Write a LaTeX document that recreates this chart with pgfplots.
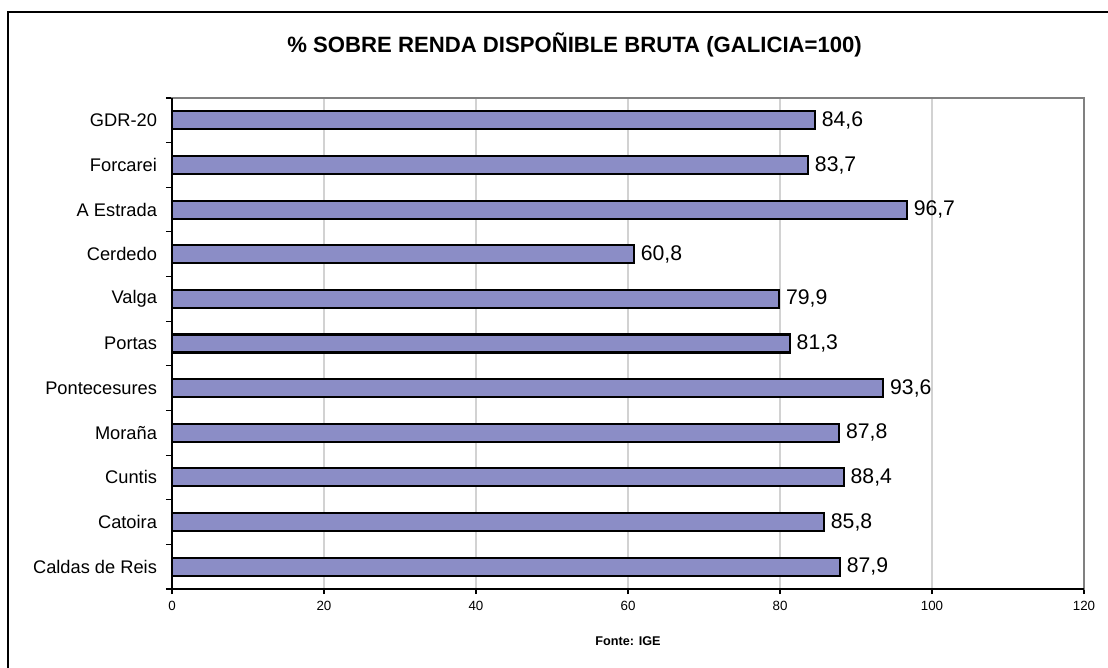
\documentclass[border=0pt]{standalone}
\usepackage{fontspec}
\setmainfont{Liberation Sans}
\usepackage{pgfplots}
\pgfplotsset{compat=1.18}
\definecolor{barfill}{RGB}{139,141,198}
\definecolor{gridgray}{RGB}{210,210,210}
\definecolor{framegray}{RGB}{128,128,128}
\begin{document}
\begin{tikzpicture}
\useasboundingbox (0pt,0pt) rectangle (831pt,-501pt);
\draw[line width=1pt] (6pt,-501pt) -- (6pt,-9pt) -- (831pt,-9pt);
\node[font=\bfseries\fontsize{16.6}{19}\selectfont] at (431pt,-34pt) {\% SOBRE RENDA DISPOÑIBLE BRUTA (GALICIA=100)};
\begin{axis}[
  at={(129pt,-441.75pt)}, anchor=south west,
  scale only axis, width=684pt, height=368.25pt,
  xmin=0, xmax=120, ymin=-0.5, ymax=10.5,
  xbar, bar width=13.5pt,
  xtick={0,20,...,120},
  xmajorgrids, grid style={gridgray, line width=0.8pt},
  ytick={0,...,10},
  yticklabels={Caldas de Reis, Catoira, Cuntis, Moraña, Pontecesures, Portas, Valga, Cerdedo, A Estrada\hspace{3.5pt}, Forcarei, GDR-20},
  minor ytick={-0.5,0.5,...,10.5},
  tick align=outside, tick pos=left,
  major tick length=3.75pt, minor tick length=4.5pt,
  major y tick style={draw=none},
  minor y tick style={black, line width=0.8pt},
  major x tick style={black, line width=0.8pt},
  axis line style={framegray, line width=1.2pt},
  /pgf/number format/assume math mode=true,
  xticklabel style={font=\fontsize{10}{12}\selectfont, yshift=-2pt},
  yticklabel style={font=\fontsize{13.7}{16}\selectfont, xshift=-4pt},
  xlabel={\textbf{Fonte: IGE}},
  xlabel style={font=\fontsize{9.5}{11}\selectfont, at={(axis description cs:0.5,0)}, anchor=center, yshift=-39pt},
  nodes near coords={\pgfmathprintnumber[fixed,fixed zerofill,precision=1,use comma]{\pgfplotspointmeta}},
  point meta=x,
  every node near coord/.append style={font=\fontsize{15.9}{18}\selectfont, black, anchor=west, xshift=1pt},
  clip=false,
]
\addplot[fill=barfill, draw=black, line width=1.6pt] coordinates {
  (87.9,0) (85.8,1) (88.4,2) (87.8,3) (93.6,4) (81.3,5) (79.9,6) (60.8,7) (96.7,8) (83.7,9) (84.6,10)
};
\draw[black, line width=1.2pt] (rel axis cs:0,1) -- (rel axis cs:0,0) -- (rel axis cs:1,0);
\end{axis}
\end{tikzpicture}
\end{document}
